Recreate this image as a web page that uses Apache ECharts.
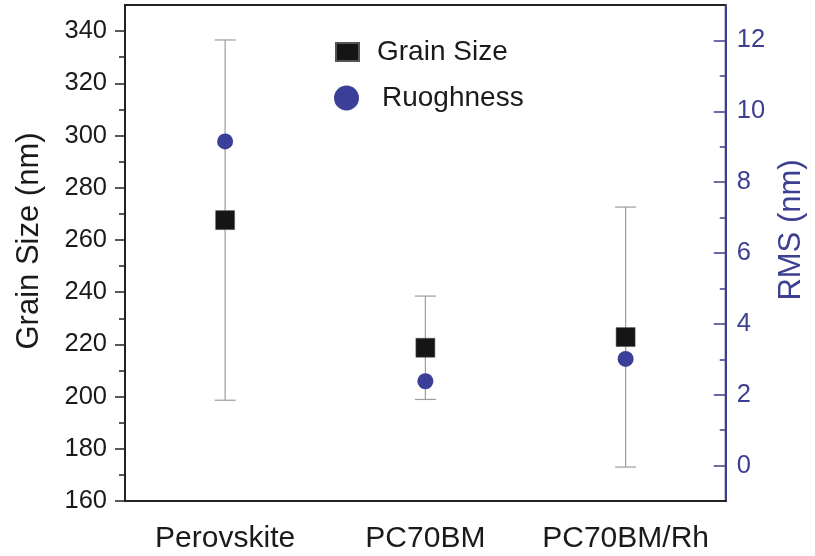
<!DOCTYPE html>
<html>
<head>
<meta charset="utf-8">
<script src="https://cdn.jsdelivr.net/npm/echarts@6/dist/echarts.min.js"></script>
<style>html,body{margin:0;padding:0;background:#fff;overflow:hidden}#c{width:815px;height:556px}</style>
</head>
<body>
<div id="c"></div>
<script>
const categories = ['Perovskite', 'PC70BM', 'PC70BM/Rh'];
const grainSize = [267.6, 218.7, 222.8];
const grainErr = [69.0, 19.8, 49.8];
const roughness = [9.15, 2.38, 3.01];
const leftTicks = [160, 180, 200, 220, 240, 260, 280, 300, 320, 340];
const leftMinorTicks = [170, 190, 210, 230, 250, 270, 290, 310, 330];
const rightTicks = [0, 2, 4, 6, 8, 10, 12];
const rightMinorTicks = [1, 3, 5, 7, 9, 11];

const FONT = "'Liberation Sans', Arial, sans-serif";
const BLUE = '#3d3f91';
const BLK = '#1a1a1a';

const chart = echarts.init(document.getElementById('c'), null, { width: 815, height: 556 });
const errData = categories.map((c, i) => [i, grainSize[i], grainErr[i]]);

chart.setOption({
  animation: false,
  textStyle: { fontFamily: FONT },
  grid: { left: 125, right: 83, top: 5, bottom: 55, show: true, borderColor: '#222', borderWidth: 2 },
  legend: [
    {
      data: [{ name: 'Grain Size', icon: 'rect' }],
      left: 335, top: 38, padding: 0,
      itemWidth: 23, itemHeight: 18,
      itemStyle: { opacity: 1 },
      textStyle: { fontSize: 28, color: BLK, fontFamily: FONT, padding: [0, 0, 0, 13] }
    },
    {
      data: [{ name: 'Ruoghness', icon: 'circle' }],
      left: 334, top: 84, padding: 0,
      itemWidth: 25, itemHeight: 25,
      itemStyle: { opacity: 1 },
      textStyle: { fontSize: 28, color: BLK, fontFamily: FONT, padding: [0, 0, 0, 18] }
    }
  ],
  xAxis: {
    type: 'category', data: categories, boundaryGap: true,
    axisLine: { onZero: false, lineStyle: { color: '#222', width: 2 } },
    axisTick: { alignWithLabel: true, length: 10, lineStyle: { color: '#222', width: 1.5 } },
    axisLabel: { fontSize: 30, color: BLK, margin: 23, interval: 0, hideOverlap: false, fontFamily: FONT },
    splitLine: { show: false }
  },
  yAxis: [
    {
      type: 'value', position: 'left', min: 160, max: 350,
      name: 'Grain Size (nm)', nameLocation: 'middle', nameRotate: 90, nameGap: 80,
      nameTextStyle: { fontSize: 31, color: BLK, fontFamily: FONT, padding: [0, 0, 0, 24] },
      axisLine: { show: true, lineStyle: { color: '#222', width: 2 } },
      axisTick: { show: true, length: 10, customValues: leftTicks, lineStyle: { color: '#222', width: 1.5 } },
      axisLabel: { fontSize: 25.5, color: BLK, margin: 18, customValues: leftTicks, fontFamily: FONT },
      splitLine: { show: false }
    },
    {
      type: 'value', position: 'left', min: 160, max: 350,
      axisLine: { show: false },
      axisTick: { show: true, length: 6, customValues: leftMinorTicks, lineStyle: { color: '#222', width: 1.5 } },
      axisLabel: { show: false },
      splitLine: { show: false }
    },
    {
      type: 'value', position: 'right', min: -1, max: 13,
      name: 'RMS (nm)', nameLocation: 'middle', nameRotate: 90, nameGap: 46,
      nameTextStyle: { fontSize: 31, color: BLUE, fontFamily: FONT, padding: [0, 0, 0, 46] },
      axisLine: { show: true, lineStyle: { color: BLUE, width: 2 } },
      axisTick: { show: true, inside: true, length: 12, customValues: rightTicks, lineStyle: { color: BLUE, width: 1.5 } },
      axisLabel: { fontSize: 25.5, color: BLUE, margin: 11, customValues: rightTicks, fontFamily: FONT },
      splitLine: { show: false }
    },
    {
      type: 'value', position: 'right', min: -1, max: 13,
      axisLine: { show: false },
      axisTick: { show: true, inside: true, length: 6, customValues: rightMinorTicks, lineStyle: { color: BLUE, width: 1.5 } },
      axisLabel: { show: false },
      splitLine: { show: false }
    }
  ],
  series: [
    {
      name: 'errGrain', type: 'custom', yAxisIndex: 0, z: 1,
      data: errData,
      renderItem: function (params, api) {
        const x = api.value(0), y = api.value(1), e = api.value(2);
        const lo = api.coord([x, y - e]);
        const hi = api.coord([x, y + e]);
        const hw = 10.5;
        const st = { stroke: '#9c9c9c', lineWidth: 1.2 };
        return {
          type: 'group',
          children: [
            { type: 'line', shape: { x1: lo[0], y1: lo[1], x2: hi[0], y2: hi[1] }, style: st },
            { type: 'line', shape: { x1: lo[0] - hw, y1: lo[1], x2: lo[0] + hw, y2: lo[1] }, style: st },
            { type: 'line', shape: { x1: hi[0] - hw, y1: hi[1], x2: hi[0] + hw, y2: hi[1] }, style: st }
          ]
        };
      }
    },
    {
      name: 'Grain Size', type: 'scatter', yAxisIndex: 0, z: 3,
      symbol: 'rect', symbolSize: 19,
      itemStyle: { color: '#151515', opacity: 1, borderColor: '#555', borderWidth: 0.5 },
      data: grainSize
    },
    {
      name: 'Ruoghness', type: 'scatter', yAxisIndex: 2, z: 3,
      symbol: 'circle', symbolSize: 16,
      itemStyle: { color: '#3b3f97', opacity: 1 },
      data: roughness
    }
  ]
});
</script>
</body>
</html>
